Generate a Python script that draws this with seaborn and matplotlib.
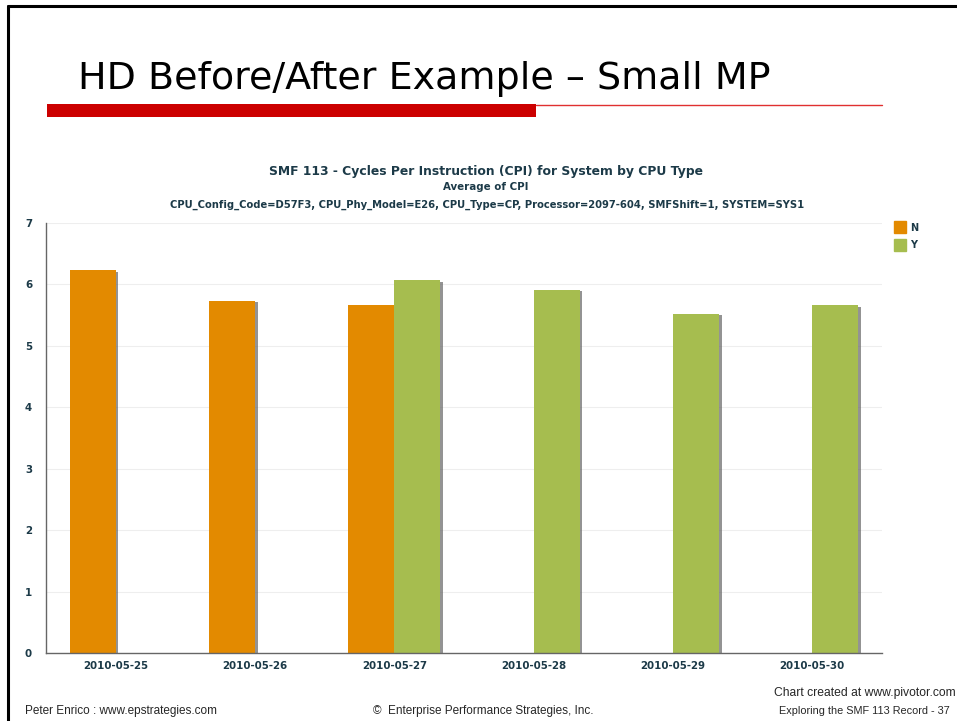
import pandas as pd
import numpy as np
import matplotlib
matplotlib.use("Agg")
import matplotlib.pyplot as plt
import matplotlib.patheffects as pe
from matplotlib.lines import Line2D
from matplotlib.patches import Rectangle
import seaborn as sns

# data
dates = ['2010-05-25', '2010-05-26', '2010-05-27', '2010-05-28', '2010-05-29', '2010-05-30']
cpi_n = [6.23, 5.73, 5.66, np.nan, np.nan, np.nan]
cpi_y = [np.nan, np.nan, 6.07, 5.91, 5.52, 5.66]
cpu_types = ['N', 'Y']
colors = ['#E38A00', '#A6BD4F']

df = pd.DataFrame({
    'date': dates * 2,
    'cpu_type': ['N'] * len(dates) + ['Y'] * len(dates),
    'cpi': cpi_n + cpi_y,
})

sns.set_style('white')
plt.rcParams['font.family'] = ['DejaVu Sans']

fig = plt.figure(figsize=(9.57, 7.21), dpi=100)
W, H = 957, 721

def fx(px):
    return px / W

def fy(py):
    return 1 - py / H

# slide frame
fig.add_artist(Line2D([fx(8), fx(8)], [0, fy(5.5)], color='black', lw=2.2, transform=fig.transFigure))
fig.add_artist(Line2D([fx(8), 1], [fy(5.5), fy(5.5)], color='black', lw=2.2, transform=fig.transFigure))

# slide title and red rule
fig.text(fx(78), fy(79), 'HD Before/After Example – Small MP', fontsize=27.4, va='center', ha='left',
         color='black')
fig.add_artist(Rectangle((fx(47), fy(117)), fx(536) - fx(47), fy(104) - fy(117), color='#CC0000',
                         transform=fig.transFigure, lw=0))
fig.add_artist(Line2D([fx(536), fx(882)], [fy(104.5), fy(104.5)], color='#E03030', lw=1,
                      transform=fig.transFigure))

# chart titles
title_col = '#1C3A48'
fig.text(fx(486), fy(171), 'SMF 113 - Cycles Per Instruction (CPI) for System by CPU Type',
         fontsize=8.9, fontweight='bold', color=title_col, ha='center', va='center')
fig.text(fx(486), fy(187), 'Average of CPI', fontsize=7.4, fontweight='bold', color=title_col,
         ha='center', va='center')
fig.text(fx(487), fy(205), 'CPU_Config_Code=D57F3, CPU_Phy_Model=E26, CPU_Type=CP, Processor=2097-604, SMFShift=1, SYSTEM=SYS1',
         fontsize=7.2, fontweight='bold', color=title_col, ha='center', va='center')

ax = fig.add_axes([fx(46), fy(653), fx(882) - fx(46), fy(223) - fy(653)])
sns.barplot(data=df, x='date', y='cpi', hue='cpu_type', order=dates, hue_order=cpu_types,
            palette=colors, width=0.66, saturation=1, errorbar=None, ax=ax, legend=False)

for bar in ax.patches:
    bar.set_edgecolor('none')
    bar.set_linewidth(0)
    bar.set_path_effects([pe.SimplePatchShadow(offset=(2, -1), shadow_rgbFace='#666666', alpha=0.7),
                          pe.Normal()])

ax.set_xlim(-0.5, len(dates) - 0.5)
ax.set_ylim(0, 7)
ax.set_yticks(range(0, 8))
ax.set_xlabel('')
ax.set_ylabel('')
ax.yaxis.grid(True, color='#EEEEEE', lw=0.8)
ax.set_axisbelow(True)
for s in ['top', 'right']:
    ax.spines[s].set_visible(False)
for s in ['left', 'bottom']:
    ax.spines[s].set_color('#666666')
    ax.spines[s].set_linewidth(1)

ax.set_xticks(np.arange(-0.5, len(dates) + 0.5, 1), minor=False)
ax.set_xticklabels([])
ax.set_xticks(range(len(dates)), minor=True)
ax.set_xticklabels(dates, minor=True)
ax.tick_params(axis='x', which='major', length=4, color='#666666', direction='out')
ax.tick_params(axis='x', which='minor', length=0, pad=6)
ax.tick_params(axis='y', length=4, color='#666666', pad=6)
for lab in ax.get_xticklabels(minor=True) + ax.get_yticklabels():
    lab.set_fontsize(7.4)
    lab.set_fontweight('bold')
    lab.set_color(title_col)

# legend
handles = [Line2D([], [], marker='s', ls='', markersize=8, markerfacecolor=c, markeredgecolor=c)
           for c in colors]
leg = fig.legend(handles, cpu_types, loc='upper left', bbox_to_anchor=(fx(885), fy(214)),
                 frameon=False, fontsize=7, handletextpad=0.5, labelspacing=0.75,
                 handlelength=1.2)
for t in leg.get_texts():
    t.set_fontweight('bold')
    t.set_color(title_col)

# footer
foot = ['Liberation Sans', 'DejaVu Sans']
fig.text(fx(25), fy(711), 'Peter Enrico : www.epstrategies.com', fontsize=8.5, family=foot,
         ha='left', va='center')
fig.text(fx(373), fy(711), '©  Enterprise Performance Strategies, Inc.', fontsize=8.5, family=foot,
         ha='left', va='center')
fig.text(fx(956), fy(693), 'Chart created at www.pivotor.com', fontsize=8.7, family=foot,
         ha='right', va='center')
fig.text(fx(950), fy(711), 'Exploring the SMF 113 Record - 37', fontsize=7.8, family=foot,
         ha='right', va='center')

fig.savefig('out.png', dpi=100)
